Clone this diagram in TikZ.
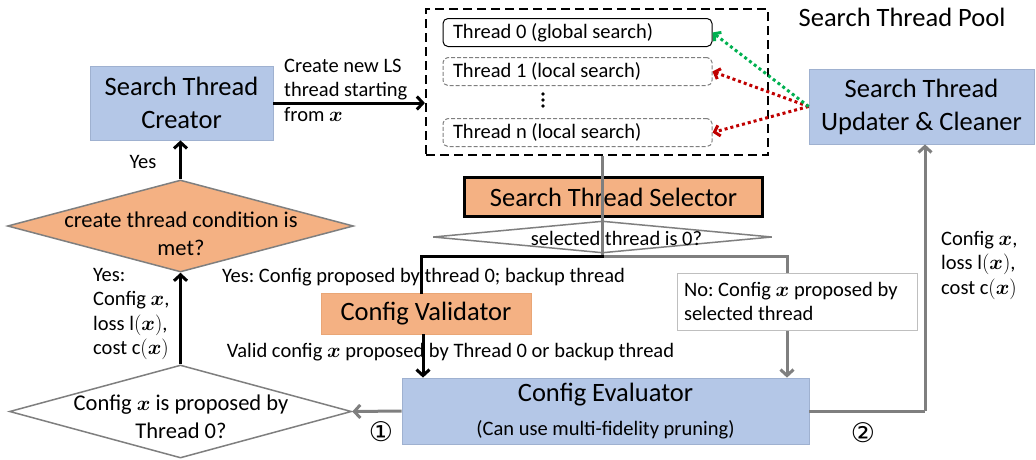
\documentclass[tikz,border=0pt]{standalone}
\usepackage{amsmath}
\usepackage{fontspec}
\setmainfont{Carlito}
\newfontfamily\circfont{DejaVu Sans}
\usetikzlibrary{arrows.meta,shapes.geometric}
\frenchspacing

\definecolor{boxblue}{HTML}{B4C7E7}
\definecolor{boxblueedge}{HTML}{9FB1D0}
\definecolor{boxorange}{HTML}{F4B183}
\definecolor{boxorangeedge}{HTML}{E9A676}
\definecolor{linegray}{HTML}{7F7F7F}
\definecolor{lightedge}{HTML}{BFBFBF}
\definecolor{okgreen}{HTML}{00B050}
\definecolor{dropred}{HTML}{C00000}

\newcommand\bigf{\fontsize{26.5}{33}\selectfont}
\newcommand\midf{\fontsize{22.5}{28}\selectfont}
\newcommand\smallf{\fontsize{20.5}{24.5}\selectfont}
\newcommand\vx{\boldsymbol{x}}

\tikzset{
  bluebox/.style={draw=boxblueedge, line width=0.8pt, fill=boxblue, align=center, font=\bigf, inner sep=0pt},
  orangebox/.style={draw=boxorangeedge, line width=0.8pt, fill=boxorange, align=center, font=\bigf, inner sep=0pt},
  threadbox/.style={rounded corners=5pt, line width=1pt, text width=249pt, inner xsep=10pt, inner ysep=0pt,
    minimum height=28pt, align=flush left, font=\smallf},
  decision/.style={diamond, draw=linegray, line width=1.5pt, fill=white, inner sep=0pt},
  lbl/.style={font=\smallf, inner sep=0pt},
  circled/.style={font=\circfont\fontsize{27}{30}\selectfont, inner sep=0pt},
  tip/.style={-{Straight Barb[length=6pt,width=13pt]}},
  blackline/.style={draw=black, line width=3pt},
  grayline/.style={draw=linegray, line width=3pt},
  blackarrow/.style={blackline, tip},
  grayarrow/.style={grayline, tip},
  dotarrow/.style={line width=3pt, dash pattern=on 3pt off 3pt, -{Straight Barb[length=5pt,width=11pt]}},
}

\begin{document}
\begin{tikzpicture}[x=1pt,y=-1pt]
\useasboundingbox (0,0) rectangle (1036,459);

% thread pool
\node[draw, line width=2.2pt, dash pattern=on 9pt off 5pt, minimum width=342pt, minimum height=146pt] (pool) at (597,82) {};
\node[font=\bigf, inner sep=0pt] (pooltitle) at (902,17) {Search Thread Pool};
\node[threadbox, draw=black] (t0) at (577.5,32.5) {Thread 0 (global search)};
\node[threadbox, draw=linegray, dash pattern=on 4pt off 2pt] (t1) at (577.5,71.5) {Thread 1 (local search)};
\node[threadbox, draw=linegray, dash pattern=on 4pt off 2pt] (tn) at (577.5,132.5) {Thread n (local search)};
% vertical ellipsis between thread 1 and thread n
\foreach \yy in {94,100,106} \fill (543,\yy) circle (1.8pt);

% main blocks
\node[bluebox, minimum width=183pt, minimum height=74pt] (creator) at (181.5,103) {Search Thread\\Creator};
\node[bluebox, minimum width=225pt, minimum height=75pt] (upd) at (921.5,106.5) {Search Thread\\Updater \& Cleaner};
\node[orangebox, draw=black, line width=3pt, minimum width=298pt, minimum height=39pt] (sel) at (613.5,197) {Search Thread Selector};
\node[orangebox, minimum width=210pt, minimum height=41pt] (val) at (426,313.5) {Config Validator};
\node[bluebox, minimum width=407pt, minimum height=66pt] (eval) at (605.5,411)
  {Config Evaluator\\[1pt]{\smallf (Can use multi-fidelity pruning)}};

% decisions
\node[decision, minimum width=339pt, minimum height=32pt] (seld) at (602.5,237) {};
\node[lbl] (seldtext) at (616.5,238) {selected thread is 0?};
\node[decision, fill=boxorange, minimum width=346pt, minimum height=92pt] (td) at (180.5,226) {};
\node[font=\midf, align=center, inner sep=0pt] (tdtext) at (181,234) {create thread condition is\\met?};
\node[decision, minimum width=342pt, minimum height=93pt] (cd) at (180.5,411.5) {};
\node[font=\midf, align=center, inner sep=0pt] (cdtext) at (181,417) {Config $\vx$ is proposed by\\Thread 0?};

% pool to selector, selector to branch
\coordinate (split) at (602.5,256);
\coordinate (noturn) at (787,256);
\draw[grayline] (pool.south -| split) -- (sel.south -| split);
\draw[grayline] (sel.south -| split) -- (split);

% "no" branch
\draw[grayline, line cap=rect] (split) -- (noturn);
\draw[grayarrow] (noturn) -- (noturn |- eval.north);
\node[draw=lightedge, line width=0.8pt, fill=white, text width=226pt, inner xsep=7pt, inner ysep=0pt,
  minimum height=57pt, align=flush left, font=\smallf] (nobox) at (797,301.5) {No: Config $\vx$ proposed by\\selected thread};

% "yes" branch via validator
\node[lbl] (yeslab) at (423.5,277) {Yes: Config proposed by thread 0; backup thread};
\draw[blackline, line cap=rect] (split) -| ([xshift=-5pt]val.north);
\node[lbl] (validlab) at (450.5,352) {Valid config $\vx$ proposed by Thread 0 or backup thread};
\draw[blackarrow] ([xshift=-3pt]val.south) -- ([xshift=-3pt]val.south |- eval.north);

% evaluator outputs
\draw[grayarrow] (eval.west) -- (cd.east);
\node[circled] (n1) at (381,432) {①};
\coordinate (corner) at (925,411);
\draw[grayline] (eval.east) -- (corner);
\draw[grayarrow] (corner) -- (corner |- upd.south);
\node[circled] (n2) at (863,433) {②};
\node[lbl, align=left, anchor=west] (rightlab) at (941,265) {Config $\vx$,\\loss $\mathrm{l}(\vx)$,\\cost c$(\vx)$};

% left column
\draw[blackarrow] (cd.north) -- (td.south);
\node[lbl, align=left, anchor=west] (leftlab) at (93,314) {Yes:\\Config $\vx$,\\loss $\mathrm{l}(\vx)$,\\cost c$(\vx)$};
\draw[blackarrow] (td.north) -- (td.north |- creator.south);
\node[lbl] (yestop) at (143,162) {Yes};
\draw[blackarrow] (creator.east) -- (creator.east -| pool.west);
\node[lbl, align=left, anchor=west] (createlab) at (284,90) {Create new LS\\thread starting\\from $\vx$};

% updater feedback to threads
\draw[dotarrow, draw=dropred] (upd.west) -- (t1.east);
\draw[dotarrow, draw=dropred] (upd.west) -- (tn.east);
\draw[dotarrow, draw=okgreen] (upd.west) -- (t0.east);
\end{tikzpicture}
\end{document}
